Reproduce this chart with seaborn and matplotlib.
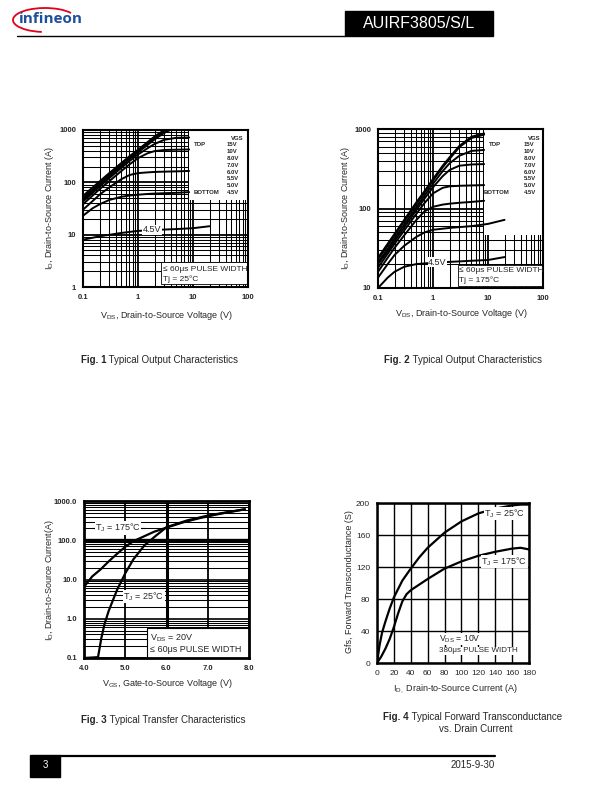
import matplotlib
matplotlib.use("Agg")
import matplotlib.pyplot as plt
import matplotlib.patches as mpatches
from matplotlib.ticker import FixedLocator, FixedFormatter, NullFormatter, LogLocator
import seaborn as sns

# ---------------- data ----------------
vgs_steps = ["15V", "10V", "8.0V", "7.0V", "6.0V", "5.5V", "5.0V", "4.5V"]

# Fig 1: output characteristics, Tj = 25C
vds_25 = [0.1, 0.15, 0.2, 0.3, 0.5, 0.7, 1.0, 1.5, 2.0, 3.0, 5.0, 8.5]
id25_15v = [55, 80, 104, 150, 235, 315, 420, 590, 750, 1000, 1400, 2000]
id25_10v = [50, 73, 96, 140, 220, 300, 400, 560, 710, 950, 1300, 1800]
id25_8v = [46, 68, 90, 130, 205, 280, 375, 520, 660, 880, 1150, 1500]
id25_7v = [43, 63, 83, 120, 190, 255, 340, 450, 540, 650, 710, 720]
id25_6v = [38, 56, 74, 105, 165, 220, 290, 360, 395, 415, 420, 425]
id25_55v = [30, 44, 58, 80, 115, 138, 150, 155, 158, 160, 162, 165]
id25_5v = [23, 32, 38, 46, 53, 56, 58, 60, 61, 62, 63, 65]
vds_25_45 = [0.1, 0.2, 0.5, 1.0, 2.0, 5.0, 10.0, 20.0]
id25_45v = [8, 9.3, 10.8, 11.8, 12.3, 12.8, 13.3, 14.5]

# Fig 2: output characteristics, Tj = 175C
vds_175 = [0.1, 0.15, 0.2, 0.3, 0.5, 0.7, 1.0, 1.5, 2.0, 3.0, 5.0, 8.5]
id175_15v = [24, 36, 48, 72, 120, 165, 235, 345, 440, 610, 800, 880]
id175_10v = [23, 34, 46, 69, 114, 158, 225, 330, 420, 590, 770, 850]
id175_8v = [21, 31, 42, 63, 104, 145, 205, 295, 370, 460, 530, 545]
id175_7v = [20, 29, 39, 58, 96, 133, 185, 255, 305, 345, 358, 362]
id175_6v = [18, 27, 36, 53, 86, 117, 155, 182, 190, 193, 195, 197]
id175_55v = [16, 24, 32, 46, 72, 92, 105, 112, 115, 118, 121, 125]
vds_175_5 = [0.1, 0.15, 0.2, 0.3, 0.5, 0.7, 1.0, 2.0, 5.0, 10.0, 20.0]
id175_5v = [13.5, 20, 26, 34, 44, 50, 54, 57, 60, 64, 72]
vds_175_45 = [0.1, 0.15, 0.2, 0.3, 0.5, 1.0, 2.0, 5.0, 10.0, 20.0]
id175_45v = [10, 13.5, 16, 18.5, 20, 20.8, 21.3, 22, 22.5, 24.5]

# Fig 3: transfer characteristics
vgs_t175 = [4.0, 4.2, 4.4, 4.6, 4.8, 5.0, 5.2, 5.45, 5.7, 6.0, 6.4, 6.8, 7.2, 7.6, 7.9]
id_t175 = [6.5, 12, 18, 29, 45, 68, 95, 125, 165, 210, 285, 365, 450, 540, 615]
vgs_t25 = [4.0, 4.34, 4.42, 4.5, 4.6, 4.8, 5.0, 5.2, 5.47, 5.76, 6.0, 6.5, 7.0, 7.5, 7.9]
id_t25 = [0.1, 0.105, 0.32, 0.75, 1.6, 5.4, 14.4, 33, 75, 135, 215, 320, 425, 525, 615]

# Fig 4: forward transconductance
id_g25 = [0, 3, 6, 10, 15, 20, 30, 40, 50, 60, 80, 100, 120, 140, 160, 170, 180]
gfs_25 = [0, 22, 38, 52, 68, 82, 103, 118, 132, 144, 163, 177, 187, 193, 197, 198, 198]
id_g175 = [0, 5, 10, 15, 20, 25, 30, 35, 40, 50, 60, 80, 100, 120, 140, 160, 170, 180]
gfs_175 = [0, 8, 18, 30, 45, 62, 77, 86, 91, 98, 105, 118, 127, 134, 139, 143, 144, 142]

# ---------------- page setup ----------------
sns.set_style("white")
plt.rcParams["font.family"] = ["Liberation Sans", "DejaVu Sans"]
plt.rcParams["mathtext.fontset"] = "custom"
plt.rcParams["mathtext.rm"] = "Liberation Sans"
plt.rcParams["mathtext.it"] = "Liberation Sans"

W, H = 612, 792
fig = plt.figure(figsize=(W / 100, H / 100), dpi=100)


def px_axes(l, t, r, b):
    return fig.add_axes([l / W, 1 - b / H, (r - l) / W, (b - t) / H])


def ftext(x, y, s, **kw):
    return fig.text(x / W, 1 - y / H, s, **kw)


def curve(ax, x, y, lw=1.4):
    sns.lineplot(x=x, y=y, ax=ax, color="black", linewidth=lw,
                 estimator=None, sort=False, legend=False, zorder=3)


def frame(ax, lw=1.5):
    for sp in ax.spines.values():
        sp.set_visible(True)
        sp.set_color("black")
        sp.set_linewidth(lw)
        sp.set_zorder(6)
    ax.tick_params(which="both", length=0, labelsize=5.5, pad=5)
    for lab in ax.get_xticklabels() + ax.get_yticklabels():
        lab.set_fontweight("bold")


def caption(x, y, num, rest):
    t = ftext(x, y, num, fontsize=7, fontweight="bold", va="center")
    fig.axes[0].annotate(rest, xy=(1, 0.5), xycoords=t, va="center", ha="left",
                         fontsize=7, annotation_clip=False)


# ---------------- header / footer ----------------
logo = px_axes(10, 3, 100, 35)
logo.set_xlim(10, 100)
logo.set_ylim(35, 3)
logo.axis("off")
logo.add_patch(mpatches.Arc((45, 20), 64, 24, theta1=105, theta2=345,
                            color="#e2001a", lw=1.3))
logo.text(19, 19, "infineon", color="#1d4f9c", fontsize=11, fontweight="bold",
          va="center", ha="left", family=["Open Sans", "DejaVu Sans"])

fig.add_artist(plt.Line2D([17 / W, 345 / W], [1 - 36 / H, 1 - 36 / H], color="black", lw=1))
fig.add_artist(mpatches.Rectangle((345 / W, 1 - 36 / H), 148 / W, 25 / H,
                                  transform=fig.transFigure, color="black"))
ftext(419, 24, "AUIRF3805/S/L", color="white", fontsize=11.5, ha="center", va="center")

fig.add_artist(mpatches.Rectangle((30 / W, 1 - 777 / H), 30 / W, 22 / H,
                                  transform=fig.transFigure, color="black"))
fig.add_artist(plt.Line2D([60 / W, 495 / W], [1 - 756 / H, 1 - 756 / H], color="black", lw=1.6))
ftext(45, 765, "3", color="white", fontsize=7, ha="center", va="center")
ftext(495, 765, "2015-9-30", fontsize=7, ha="right", va="center")


# ---------------- Fig 1 / Fig 2: output characteristics ----------------
def output_plot(ax, ymin, curves, leg_x, leg_y, box):
    ax.set_xscale("log")
    ax.set_yscale("log")
    ax.set_xlim(0.1, 100)
    ax.set_ylim(ymin, 1000)
    ax.set_axisbelow(True)
    ax.grid(which="major", color="black", lw=1.3)
    ax.grid(which="minor", color="black", lw=0.75)
    ax.xaxis.set_minor_locator(LogLocator(subs=range(2, 10)))
    ax.yaxis.set_minor_locator(LogLocator(subs=range(2, 10)))
    ax.xaxis.set_minor_formatter(NullFormatter())
    ax.yaxis.set_minor_formatter(NullFormatter())
    ax.xaxis.set_major_locator(FixedLocator([0.1, 1, 10, 100]))
    ax.xaxis.set_major_formatter(FixedFormatter(["0.1", "1", "10", "100"]))
    yt = [1, 10, 100, 1000] if ymin == 1 else [10, 100, 1000]
    ax.yaxis.set_major_locator(FixedLocator(yt))
    ax.yaxis.set_major_formatter(FixedFormatter([str(v) for v in yt]))
    # legend box (upper right)
    ax.add_patch(mpatches.Rectangle((leg_x, leg_y), 100 - leg_x, 1000 - leg_y,
                                    facecolor="white", edgecolor="none", zorder=2.5))
    for x, y in curves:
        curve(ax, x, y)
    # bottom-right text box
    bx0, by0, by1 = box
    ax.add_patch(mpatches.Rectangle((bx0, by0), 100 - bx0, by1 - by0,
                                    facecolor="white", edgecolor="black", lw=0.6, zorder=4))
    frame(ax)


ax1 = px_axes(83, 130, 248, 287)
output_plot(ax1, 1,
            [(vds_25, id25_15v), (vds_25, id25_10v), (vds_25, id25_8v), (vds_25, id25_7v),
             (vds_25, id25_6v), (vds_25, id25_55v), (vds_25, id25_5v), (vds_25_45, id25_45v)],
            8.5, 46, (2.6, 1.15, 3.0))
ax2 = px_axes(378, 129, 543, 288)
output_plot(ax2, 10,
            [(vds_175, id175_15v), (vds_175, id175_10v), (vds_175, id175_8v), (vds_175, id175_7v),
             (vds_175, id175_6v), (vds_175, id175_55v), (vds_175_5, id175_5v),
             (vds_175_45, id175_45v)],
            8.5, 46, (2.8, 10.6, 19.5))

# legend texts
for (vx, top_x, top_y, bot_x) in [(227, 194, 138, 194), (524, 489, 138, 484)]:
    ftext(vx + 4, top_y, "VGS", fontsize=4.3, fontweight="bold", va="center")
    for i, v in enumerate(vgs_steps):
        ftext(vx, top_y + 6.8 * (i + 1), v, fontsize=4.3, fontweight="bold", va="center")
    ftext(top_x, top_y + 6.8, "TOP", fontsize=4.3, fontweight="bold", va="center")
    ftext(bot_x, top_y + 6.8 * 8, "BOTTOM", fontsize=4.3, fontweight="bold", va="center")

# box texts / curve labels
ftext(163, 270, "≤ 60μs PULSE WIDTH", fontsize=6, va="center")
ftext(163, 279, "Tj = 25°C", fontsize=6, va="center")
ftext(459, 271, "≤ 60μs PULSE WIDTH", fontsize=6, va="center")
ftext(459, 280, "Tj = 175°C", fontsize=6, va="center")
ax1.text(1.8, 12.3, "4.5V", fontsize=6.5, ha="center", va="center", zorder=5,
         bbox=dict(facecolor="white", edgecolor="none", pad=0.3))
ax2.text(1.2, 21.0, "4.5V", fontsize=6.5, ha="center", va="center", zorder=5,
         bbox=dict(facecolor="white", edgecolor="none", pad=0.3))

for x0, yl in [(50, 208), (345, 208)]:
    ftext(x0, yl, r"I$_{\rm D}$, Drain-to-Source Current (A)", fontsize=6.5,
          rotation=90, ha="center", va="center")
ftext(166, 315, r"V$_{\rm DS}$, Drain-to-Source Voltage (V)", fontsize=6.5, ha="center", va="center")
ftext(461, 314, r"V$_{\rm DS}$, Drain-to-Source Voltage (V)", fontsize=6.5, ha="center", va="center")

# ---------------- Fig 3: transfer characteristics ----------------
ax3 = px_axes(84, 501, 249, 658)
ax3.set_yscale("log")
ax3.set_xlim(4, 8)
ax3.set_ylim(0.1, 1000)
ax3.set_axisbelow(True)
ax3.xaxis.set_major_locator(FixedLocator([4, 5, 6, 7, 8]))
ax3.xaxis.set_major_formatter(FixedFormatter(["4.0", "5.0", "6.0", "7.0", "8.0"]))
ax3.yaxis.set_major_locator(FixedLocator([0.1, 1, 10, 100, 1000]))
ax3.yaxis.set_major_formatter(FixedFormatter(["0.1", "1.0", "10.0", "100.0", "1000.0"]))
ax3.yaxis.set_minor_locator(LogLocator(subs=range(2, 10)))
ax3.yaxis.set_minor_formatter(NullFormatter())
ax3.grid(which="major", axis="x", color="black", lw=1.3)
ax3.grid(which="major", axis="y", color="black", lw=1.2)
ax3.grid(which="minor", axis="y", color="black", lw=0.75)
ax3.axvline(6, color="black", lw=2.2, zorder=1)
ax3.axhline(100, color="black", lw=2.4, zorder=1)
curve(ax3, vgs_t175, id_t175, lw=1.6)
curve(ax3, vgs_t25, id_t25, lw=1.6)
ax3.add_patch(mpatches.Rectangle((5.53, 0.1), 2.47, 0.58 - 0.1, facecolor="white",
                                 edgecolor="black", lw=0.8, zorder=4))
frame(ax3, lw=2)
ax3.plot([4.2, 5.48], [205, 205], color="black", lw=0.8, zorder=3)
ax3.text(4.82, 205, r"T$_{\rm J}$ = 175°C", fontsize=6.5, ha="center", va="center", zorder=5,
         bbox=dict(facecolor="white", edgecolor="none", pad=0.2))
ax3.plot([5.02, 5.92], [3.6, 3.6], color="black", lw=0.8, zorder=3)
ax3.text(5.45, 3.6, r"T$_{\rm J}$ = 25°C", fontsize=6.5, ha="center", va="center", zorder=5,
         bbox=dict(facecolor="white", edgecolor="none", pad=0.2))
ftext(150, 638, r"V$_{\rm DS}$ = 20V", fontsize=6.5, va="center")
ftext(150, 649, "≤ 60μs PULSE WIDTH", fontsize=6.5, va="center")
ftext(50, 580, r"I$_{\rm D}$, Drain-to-Source Current(A)", fontsize=6.5,
      rotation=90, ha="center", va="center")
ftext(167, 684, r"V$_{\rm GS}$, Gate-to-Source Voltage (V)", fontsize=6.5, ha="center", va="center")

# ---------------- Fig 4: forward transconductance ----------------
ax4 = px_axes(377, 503, 529, 663)
ax4.set_xlim(0, 180)
ax4.set_ylim(0, 200)
ax4.set_axisbelow(True)
ax4.xaxis.set_major_locator(FixedLocator(list(range(0, 181, 20))))
ax4.yaxis.set_major_locator(FixedLocator(list(range(0, 201, 40))))
ax4.grid(which="major", color="black", lw=1.0)
curve(ax4, id_g25, gfs_25, lw=1.6)
curve(ax4, id_g175, gfs_175, lw=1.6)
frame(ax4, lw=1.8)
ax4.tick_params(labelsize=6)
for lab in ax4.get_xticklabels() + ax4.get_yticklabels():
    lab.set_fontweight("normal")
ax4.text(151, 187, r"T$_{\rm J}$ = 25°C", fontsize=6.5, ha="center", va="center", zorder=5,
         bbox=dict(facecolor="white", edgecolor="none", pad=0.3))
ax4.text(151, 127, r"T$_{\rm J}$ = 175°C", fontsize=6.5, ha="center", va="center", zorder=5,
         bbox=dict(facecolor="white", edgecolor="none", pad=0.3))
ax4.text(74, 30, r"V$_{\rm DS}$ = 10V", fontsize=6.2, ha="left", va="center", zorder=5,
         bbox=dict(facecolor="white", edgecolor="none", pad=0.3))
ax4.text(74, 15, "380μs PULSE WIDTH", fontsize=5.8, ha="left", va="center", zorder=5,
         bbox=dict(facecolor="white", edgecolor="none", pad=0.3))
ftext(350, 582, "Gfs, Forward Transconductance (S)", fontsize=6.5,
      rotation=90, ha="center", va="center")
ftext(455, 689, r"I$_{\rm D,}$ Drain-to-Source Current (A)", fontsize=6.5, ha="center", va="center")

# ---------------- captions ----------------
caption(81, 360, "Fig. 1", " Typical Output Characteristics")
caption(384, 360, "Fig. 2", " Typical Output Characteristics")
caption(81, 720, "Fig. 3", " Typical Transfer Characteristics")
caption(383, 717, "Fig. 4", " Typical Forward Transconductance")
ftext(476, 729, "vs. Drain Current", fontsize=7, ha="center", va="center")

fig.savefig("out.png", dpi=100)
